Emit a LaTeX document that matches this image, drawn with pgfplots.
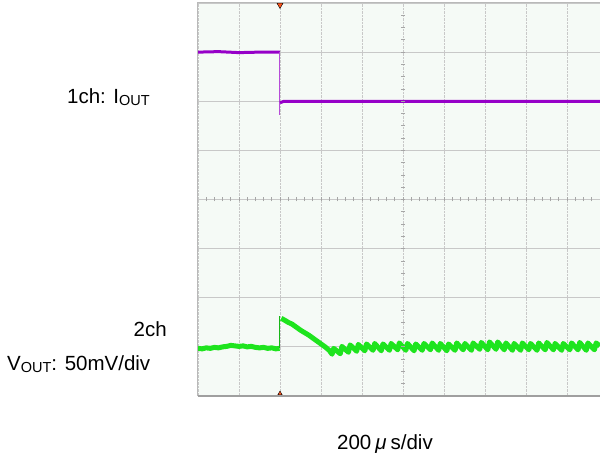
\documentclass[border=0pt]{standalone}
\usepackage{fontspec}
\setmainfont{Liberation Sans}
\usepackage{pgfplots}
\pgfplotsset{compat=1.18}

\definecolor{scopebg}{RGB}{245,250,246}
\definecolor{gridgray}{RGB}{200,200,200}
\definecolor{ch1}{RGB}{150,0,200}
\definecolor{ch2}{RGB}{30,228,30}
\definecolor{trig}{RGB}{255,85,30}

\newcommand{\sub}[1]{\raisebox{-2.7pt}{\fontsize{14.5}{16}\selectfont #1}}

\begin{document}
\begin{tikzpicture}
\fontsize{20.5}{24}\selectfont
% page = 600 x 458, 1px = 1pt
\path[use as bounding box] (-198pt,-62pt) rectangle (402pt,396pt);

\begin{axis}[
    at={(0pt,0pt)}, anchor=south west,
    scale only axis,
    width=401.8pt, height=393pt,
    xmin=0, xmax=9.8, ymin=0, ymax=8,
    xtick={0,...,9}, ytick={0,...,8},
    xticklabels={}, yticklabels={},
    major tick length=0pt,
    axis line style={draw=none},
    axis background/.style={fill=scopebg},
    xmajorgrids, ymajorgrids,
    x grid style={gridgray, densely dotted, line width=0.9pt},
    y grid style={gridgray, line width=1pt},
    clip=false,
]
% 1ch: output current
\addplot[ch1, line width=3pt] coordinates {
    (0,7.00) (0.5,7.01) (1.0,6.99) (1.5,7.00) (2.0,7.00)
};
\addplot[ch1!70, line width=1pt] coordinates {
    (2.0,7.00) (2.0,5.72)
};
\addplot[ch1, line width=3pt] coordinates {
    (2.0,5.97) (2.1,6.00) (3.0,6.00) (5.0,6.00) (7.0,6.00) (9.8,6.00)
};
% 2ch: output voltage
\addplot[ch2, line width=5pt, line join=round] coordinates {
    (0,0.97) (0.1,0.96) (0.2,0.98) (0.3,0.97) (0.4,0.99) (0.5,0.98) (0.6,1.00)
    (0.7,1.01) (0.8,1.03) (0.9,1.02) (1.0,1.01) (1.1,1.02) (1.2,1.00) (1.3,1.01)
    (1.4,0.99) (1.5,0.98) (1.6,0.99) (1.7,0.97) (1.8,0.98) (1.9,0.96) (1.99,0.97)
};
\addplot[ch2!80!black, line width=1pt] coordinates {
    (2.0,0.97) (2.0,1.62)
};
\addplot[ch2, line width=5pt, line join=round] coordinates {
    (2.03,1.58) (2.1,1.55) (2.2,1.50) (2.3,1.46) (2.4,1.40) (2.5,1.34) (2.6,1.29)
    (2.7,1.24) (2.8,1.18) (2.9,1.12) (3.0,1.06) (3.1,1.00) (3.2,0.93)
    (3.27,0.85) (3.31,0.97) (3.47,0.86) (3.51,1.01) (3.67,0.89) (3.71,1.04)
    (3.87,0.91) (3.91,1.05) (4.07,0.92) (4.11,1.06) (4.27,0.93) (4.31,1.07)
    (4.47,0.92) (4.51,1.06) (4.67,0.93) (4.71,1.07) (4.87,0.94) (4.91,1.08)
    (5.07,0.93) (5.11,1.07) (5.27,0.92) (5.31,1.06) (5.47,0.93) (5.51,1.07)
    (5.67,0.94) (5.71,1.08) (5.87,0.93) (5.91,1.07) (6.07,0.92) (6.11,1.06)
    (6.27,0.93) (6.31,1.08) (6.47,0.94) (6.51,1.07) (6.67,0.93) (6.71,1.08)
    (6.87,0.95) (6.91,1.09) (7.07,0.94) (7.11,1.10) (7.27,0.95) (7.31,1.10)
    (7.47,0.94) (7.51,1.08) (7.67,0.93) (7.71,1.07) (7.87,0.93) (7.91,1.08)
    (8.07,0.94) (8.11,1.07) (8.27,0.93) (8.31,1.08) (8.47,0.94) (8.51,1.09)
    (8.67,0.94) (8.71,1.07) (8.87,0.93) (8.91,1.07) (9.07,0.94) (9.11,1.08)
    (9.27,0.94) (9.31,1.09) (9.47,0.93) (9.51,1.08) (9.67,0.94) (9.71,1.08)
    (9.80,1.02)
};
% trigger markers
\addplot[only marks, mark=triangle*, mark size=3.5pt,
    mark options={rotate=180, fill=trig, draw=none}] coordinates {(2,7.96)};
\addplot[only marks, mark=triangle*, mark size=2.5pt,
    mark options={fill=trig, draw=none}] coordinates {(2,0.05)};
\end{axis}

% frame
\draw[gray!55, line width=1pt] (0pt,0pt) -- (0pt,393pt) -- (401.8pt,393pt);
\draw[gray!75, line width=1.4pt] (0pt,0pt) -- (401.8pt,0pt);
% centre graticule ticks
\foreach \i in {1,...,48} \draw[gray!70, line width=0.8pt] (\i*8.2pt,194.5pt) -- (\i*8.2pt,198.5pt);
\foreach \j in {1,...,31} \draw[gray!70, line width=0.8pt] (203pt,\j*12.28pt) -- (207pt,\j*12.28pt);

% labels
\node[anchor=base east, inner sep=0pt] at (-48pt,292.7pt) {1ch: I\sub{OUT}};
\node[anchor=base east, inner sep=0pt] at (-31pt,59.3pt) {2ch};
\node[anchor=base west, inner sep=0pt] at (-191pt,26pt) {V\sub{OUT}: 50mV/div};
\node[anchor=base west, inner sep=0pt] at (139pt,-53pt) {200\hspace{4pt}\textit{μ}\hspace{4pt}s/div};
\end{tikzpicture}
\end{document}
